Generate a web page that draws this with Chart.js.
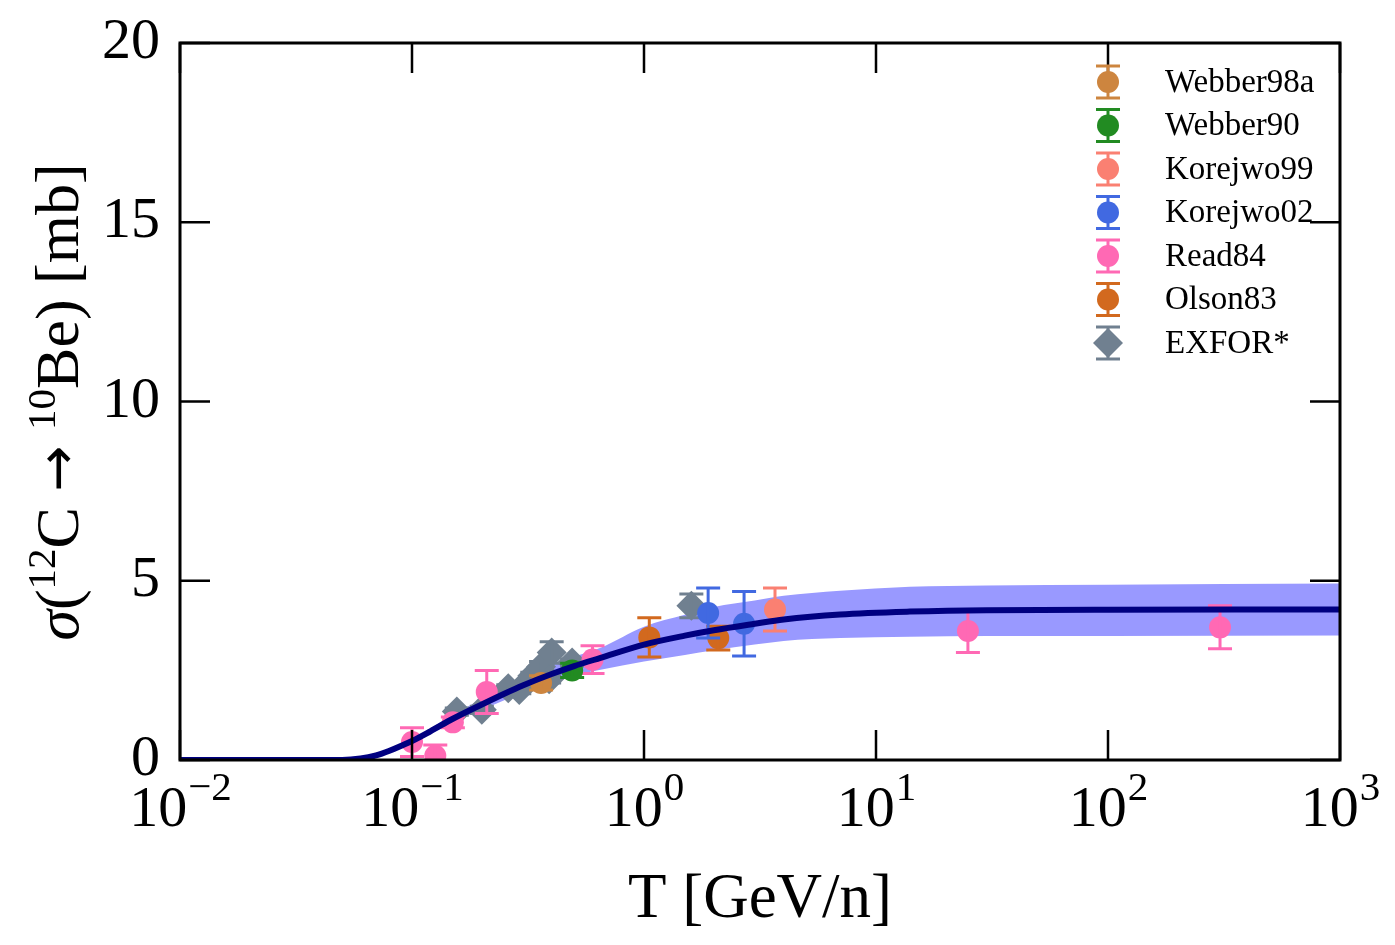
<!DOCTYPE html>
<html>
<head>
<meta charset="utf-8">
<script src="https://cdn.jsdelivr.net/npm/chart.js@4.4.1/dist/chart.umd.min.js"></script>
<style>
  html, body { margin: 0; padding: 0; background: #fff; }
  #wrap { width: 1395px; height: 945px; }
</style>
</head>
<body>
<div id="wrap"><canvas id="xsChart" width="1395" height="945"></canvas></div>
<script>
// --- data ---
// model curve and its uncertainty band
const curveT = [0.01, 0.03, 0.05, 0.06, 0.07, 0.08, 0.09, 0.1, 0.12, 0.15, 0.2, 0.25, 0.3, 0.4, 0.5, 0.65, 1, 1.5, 2, 3, 4, 7, 14, 30, 100, 1000];
const curveS = [0, 0, 0, 0.04, 0.13, 0.26, 0.4, 0.53, 0.8, 1.15, 1.55, 1.85, 2.08, 2.4, 2.62, 2.85, 3.22, 3.47, 3.62, 3.8, 3.92, 4.06, 4.14, 4.18, 4.19, 4.2];
const bandHi = [0, 0, 0, 0.045, 0.145, 0.29, 0.44, 0.58, 0.88, 1.26, 1.7, 2.03, 2.28, 2.63, 2.88, 3.13, 3.72, 4.05, 4.27, 4.45, 4.58, 4.72, 4.83, 4.87, 4.89, 4.92];
const bandLo = [0, 0, 0, 0.035, 0.115, 0.23, 0.36, 0.48, 0.72, 1.04, 1.4, 1.67, 1.88, 2.16, 2.36, 2.52, 2.75, 2.93, 3.06, 3.22, 3.32, 3.4, 3.44, 3.46, 3.46, 3.47];

// measurements: energy [GeV/n], cross section [mb], error [mb]
const webber98aT = [0.36];
const webber98aS = [2.15];
const webber98aE = [0.2];

const webber90T = [0.49];
const webber90S = [2.5];
const webber90E = [0.2];

const korejwo99T = [3.67];
const korejwo99S = [4.2];
const korejwo99E = [0.6];

const korejwo02T = [1.89, 2.7];
const korejwo02S = [4.1, 3.8];
const korejwo02E = [0.7, 0.9];

const read84T = [0.1, 0.126, 0.15, 0.21, 0.6, 24.9, 304];
const read84S = [0.5, 0.12, 1.05, 1.9, 2.8, 3.6, 3.7];
const read84E = [0.4, 0.3, 0.15, 0.6, 0.39, 0.6, 0.6];

const olson83T = [1.054, 2.09];
const olson83S = [3.42, 3.4];
const olson83E = [0.55, 0.33];

const exforT = [0.156, 0.2, 0.26, 0.29, 0.33, 0.36, 0.39, 0.4, 0.49, 1.6];
const exforS = [1.35, 1.4, 2.0, 1.95, 2.35, 2.6, 2.25, 3.0, 2.72, 4.3];
const exforE = [0.1, 0.1, 0.1, 0.1, 0.1, 0.15, 0.1, 0.3, 0.1, 0.33];

const xDecades = [0.01, 0.1, 1, 10, 100, 1000];
const xExponents = ["\u22122", "\u22121", "0", "1", "2", "3"];
const yTicks = [0, 5, 10, 15, 20];

const SERIF = "'Liberation Serif', 'DejaVu Serif', serif";

function points(xs, ys) {
  return xs.map((x, i) => ({ x: x, y: ys[i] }));
}

function measurement(label, xs, ys, errs, color, style) {
  return {
    type: "scatter",
    label: label,
    data: points(xs, ys),
    errors: errs,
    backgroundColor: color,
    borderColor: color,
    borderWidth: 0,
    pointStyle: style || "circle",
    pointRadius: style === "rectRot" ? 15 : 11,
    order: 2
  };
}

const datasets = [
  {
    type: "line",
    label: "band-hi",
    data: points(curveT, bandHi),
    borderWidth: 0,
    pointRadius: 0,
    backgroundColor: "rgb(153,153,255)",
    fill: "+1",
    cubicInterpolationMode: "monotone",
    order: 3
  },
  {
    type: "line",
    label: "band-lo",
    data: points(curveT, bandLo),
    borderWidth: 0,
    pointRadius: 0,
    fill: false,
    cubicInterpolationMode: "monotone",
    order: 3
  },
  measurement("Webber98a", webber98aT, webber98aS, webber98aE, "#CD853F"),
  measurement("Webber90", webber90T, webber90S, webber90E, "#228B22"),
  measurement("Korejwo99", korejwo99T, korejwo99S, korejwo99E, "#FA8072"),
  measurement("Korejwo02", korejwo02T, korejwo02S, korejwo02E, "#4169E1"),
  measurement("Read84", read84T, read84S, read84E, "#FF69B4"),
  measurement("Olson83", olson83T, olson83S, olson83E, "#D2691E"),
  measurement("EXFOR*", exforT, exforS, exforE, "#708090", "rectRot"),
  {
    type: "line",
    label: "model",
    data: points(curveT, curveS),
    borderColor: "#000080",
    borderWidth: 6,
    pointRadius: 0,
    fill: false,
    cubicInterpolationMode: "monotone",
    order: 1
  }
];

// error bars, drawn right after each scatter dataset
const errorBars = {
  id: "errorBars",
  afterDatasetDraw(chart, args) {
    const ds = chart.data.datasets[args.index];
    if (!ds.errors) return;
    const { ctx, chartArea: a, scales: { x, y } } = chart;
    ctx.save();
    ctx.beginPath();
    ctx.rect(a.left, a.top, a.right - a.left, a.bottom - a.top);
    ctx.clip();
    ctx.strokeStyle = ds.borderColor;
    ctx.lineWidth = 3;
    ds.data.forEach((p, i) => {
      const px = x.getPixelForValue(p.x);
      const y1 = y.getPixelForValue(p.y - ds.errors[i]);
      const y2 = y.getPixelForValue(p.y + ds.errors[i]);
      ctx.beginPath();
      ctx.moveTo(px, y1); ctx.lineTo(px, y2);
      ctx.moveTo(px - 12, y1); ctx.lineTo(px + 12, y1);
      ctx.moveTo(px - 12, y2); ctx.lineTo(px + 12, y2);
      ctx.stroke();
    });
    ctx.restore();
  }
};

// frame, inward ticks, x labels with exponents, axis titles, legend
const decorations = {
  id: "decorations",
  afterDraw(chart) {
    const { ctx, chartArea: a, scales: { x, y } } = chart;
    ctx.save();
    ctx.strokeStyle = "#000";
    ctx.lineWidth = 3;
    ctx.strokeRect(a.left, a.top, a.right - a.left, a.bottom - a.top);

    ctx.lineWidth = 2.5;
    const tl = 30;
    ctx.beginPath();
    xDecades.forEach(v => {
      const px = x.getPixelForValue(v);
      ctx.moveTo(px, a.bottom); ctx.lineTo(px, a.bottom - tl);
      ctx.moveTo(px, a.top); ctx.lineTo(px, a.top + tl);
    });
    yTicks.forEach(v => {
      const py = y.getPixelForValue(v);
      ctx.moveTo(a.left, py); ctx.lineTo(a.left + tl, py);
      ctx.moveTo(a.right, py); ctx.lineTo(a.right - tl, py);
    });
    ctx.stroke();

    // x tick labels 10^n
    ctx.fillStyle = "#000";
    ctx.textBaseline = "alphabetic";
    ctx.textAlign = "left";
    xDecades.forEach((v, i) => {
      const px = x.getPixelForValue(v);
      ctx.font = "58px " + SERIF;
      const wb = ctx.measureText("10").width;
      ctx.font = "41px " + SERIF;
      const we = ctx.measureText(xExponents[i]).width;
      const left = px - (wb + we) / 2;
      ctx.font = "58px " + SERIF;
      ctx.fillText("10", left, 826);
      ctx.font = "41px " + SERIF;
      ctx.fillText(xExponents[i], left + wb + 1, 800);
    });

    // x title
    ctx.font = "63px " + SERIF;
    ctx.textAlign = "center";
    ctx.fillText("T [GeV/n]", (a.left + a.right) / 2, 917);

    // y title, rotated
    const parts = [
      { t: "\u03c3", f: "italic 62px " + SERIF, dy: 0 },
      { t: "(", f: "62px " + SERIF, dy: 0 },
      { t: "12", f: "41px " + SERIF, dy: -23 },
      { t: "C ", f: "62px " + SERIF, dy: 0 },
      { t: "\u2192", f: "55px 'DejaVu Sans', sans-serif", dy: -2 },
      { t: " ", f: "62px " + SERIF, dy: 0 },
      { t: "10", f: "41px " + SERIF, dy: -23 },
      { t: "Be) [mb]", f: "62px " + SERIF, dy: 0 }
    ];
    let total = 0;
    parts.forEach(p => { ctx.font = p.f; p.w = ctx.measureText(p.t).width; total += p.w; });
    ctx.save();
    ctx.translate(78, 402);
    ctx.rotate(-Math.PI / 2);
    ctx.textAlign = "left";
    let cx = -total / 2;
    parts.forEach(p => { ctx.font = p.f; ctx.fillText(p.t, cx, p.dy); cx += p.w; });
    ctx.restore();

    // legend
    const rows = chart.data.datasets.filter(d => d.errors);
    ctx.textBaseline = "middle";
    ctx.textAlign = "left";
    rows.forEach((d, i) => {
      const cy = 82 + i * 43.5;
      const mx = 1108;
      ctx.strokeStyle = d.borderColor;
      ctx.fillStyle = d.backgroundColor;
      ctx.lineWidth = 3;
      ctx.beginPath();
      ctx.moveTo(mx, cy - 16); ctx.lineTo(mx, cy + 16);
      ctx.moveTo(mx - 12, cy - 16); ctx.lineTo(mx + 12, cy - 16);
      ctx.moveTo(mx - 12, cy + 16); ctx.lineTo(mx + 12, cy + 16);
      ctx.stroke();
      ctx.beginPath();
      if (d.pointStyle === "rectRot") {
        ctx.moveTo(mx, cy - 15); ctx.lineTo(mx + 15, cy);
        ctx.lineTo(mx, cy + 15); ctx.lineTo(mx - 15, cy);
        ctx.closePath();
      } else {
        ctx.arc(mx, cy, 11, 0, Math.PI * 2);
      }
      ctx.fill();
      ctx.fillStyle = "#000";
      ctx.font = "33px " + SERIF;
      ctx.fillText(d.label, 1165, cy + 1);
    });
    ctx.restore();
  }
};

new Chart(document.getElementById("xsChart").getContext("2d"), {
  data: { datasets: datasets },
  options: {
    responsive: false,
    animation: false,
    layout: { padding: { left: 0, top: 43, right: 55, bottom: 0 } },
    plugins: {
      legend: { display: false },
      tooltip: { enabled: false }
    },
    scales: {
      x: {
        type: "logarithmic",
        min: 0.01,
        max: 1000,
        afterBuildTicks: s => { s.ticks = xDecades.map(v => ({ value: v })); },
        afterFit: s => { s.height = 185; s.paddingLeft = 0; s.paddingRight = 0; },
        ticks: { display: false },
        grid: { display: false },
        border: { display: false }
      },
      y: {
        min: 0,
        max: 20,
        afterBuildTicks: s => { s.ticks = yTicks.map(v => ({ value: v })); },
        afterFit: s => { s.width = 180; s.paddingTop = 0; s.paddingBottom = 0; },
        ticks: { color: "#000", padding: 20, font: { family: SERIF, size: 58 } },
        grid: { display: false, drawTicks: false },
        border: { display: false }
      }
    }
  },
  plugins: [errorBars, decorations]
});
</script>
</body>
</html>
